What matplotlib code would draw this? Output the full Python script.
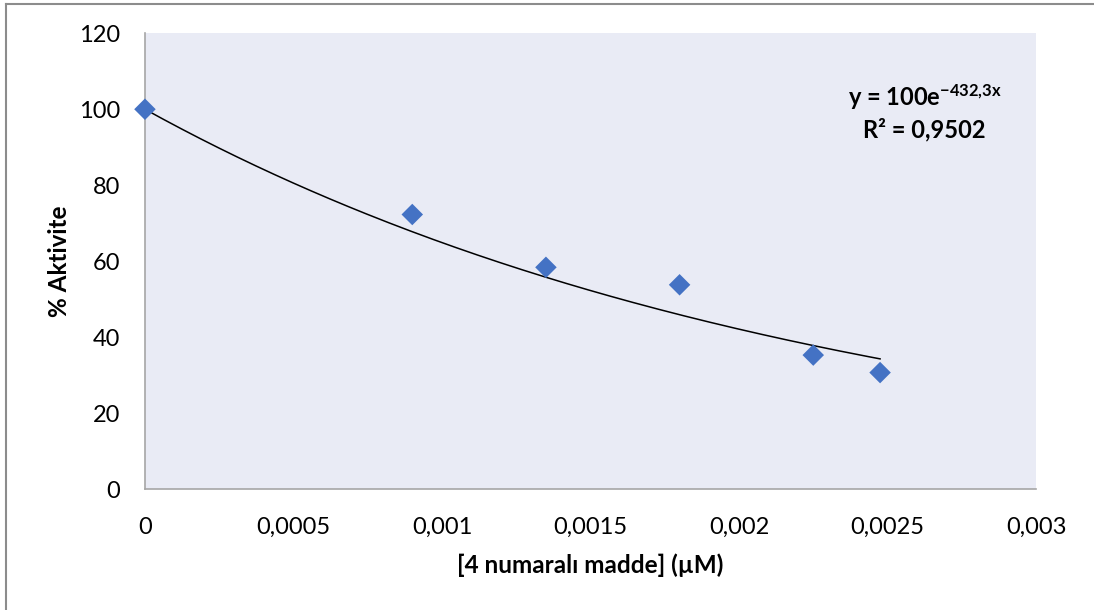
import numpy as np
import matplotlib.pyplot as plt
from matplotlib.lines import Line2D

plt.rcParams['font.family'] = ['Lato', 'DejaVu Sans']
plt.rcParams['mathtext.fontset'] = 'custom'
plt.rcParams['mathtext.rm'] = 'Lato:bold'
plt.rcParams['mathtext.it'] = 'Lato:bold'
plt.rcParams['mathtext.bf'] = 'Lato:bold'

# concentration (µM) and remaining activity (%)
konsantrasyon = [0.0, 0.0009, 0.00135, 0.0018, 0.00225, 0.002475]
aktivite = [100.0, 72.3, 58.4, 53.8, 35.3, 30.7]

# exponential fit y = a * exp(b * x)
fit_a = 100.0
fit_b = -432.3
r_kare = "0,9502"

x_ticks = [0, 0.0005, 0.001, 0.0015, 0.002, 0.0025, 0.003]
x_tick_labels = ["0", "0,0005", "0,001", "0,0015", "0,002", "0,0025", "0,003"]
y_ticks = [0, 20, 40, 60, 80, 100, 120]

fig = plt.figure(figsize=(10.94, 6.10), dpi=100)
ax = fig.add_axes([0.1325, 0.198, 0.8145, 0.7475])
ax.set_facecolor('#e9ebf5')

# chart frame: only its top and left edges are inside the image
fx = 6 / 1094
fy = 1 - 4 / 610
fig.lines.append(Line2D([fx, 1.0], [fy, fy], transform=fig.transFigure,
                        color='#8c8c8c', linewidth=1.5))
fig.lines.append(Line2D([fx, fx], [0.0, fy], transform=fig.transFigure,
                        color='#8c8c8c', linewidth=1.5))

xs = np.linspace(0, konsantrasyon[-1], 200)
ax.plot(xs, fit_a * np.exp(fit_b * xs), color='black', linewidth=1.1, zorder=2)
ax.scatter(konsantrasyon, aktivite, marker='D', s=120, color='#4472c4',
           edgecolors='none', zorder=3, clip_on=False)

ax.set_xlim(0, 0.003)
ax.set_ylim(0, 120)
ax.set_xticks(x_ticks)
ax.set_xticklabels(x_tick_labels)
ax.set_yticks(y_ticks)
ax.tick_params(length=0, labelsize=17)
ax.tick_params(axis='x', pad=20)
ax.tick_params(axis='y', pad=18)

for side in ['top', 'right']:
    ax.spines[side].set_visible(False)
for side in ['left', 'bottom']:
    ax.spines[side].set_color('#a6a6a6')
    ax.spines[side].set_linewidth(1.2)

ax.set_xlabel("[4 numaralı madde] (µM)", fontsize=17.5, fontweight='bold', va='center')
ax.set_ylabel("% Aktivite", fontsize=17.5, fontweight='bold', va='center')
ax.xaxis.set_label_coords(0.5, -0.166)
ax.yaxis.set_label_coords(-0.0954, 0.5)

ax.text(0.875, 0.860, r"y = 100e$^{-432{,}3x}$", transform=ax.transAxes,
        fontsize=17, fontweight='bold', ha='center', va='center')
ax.text(0.875, 0.788, "R² = " + r_kare, transform=ax.transAxes,
        fontsize=17, fontweight='bold', ha='center', va='center')

fig.savefig('out.png', dpi=100)
